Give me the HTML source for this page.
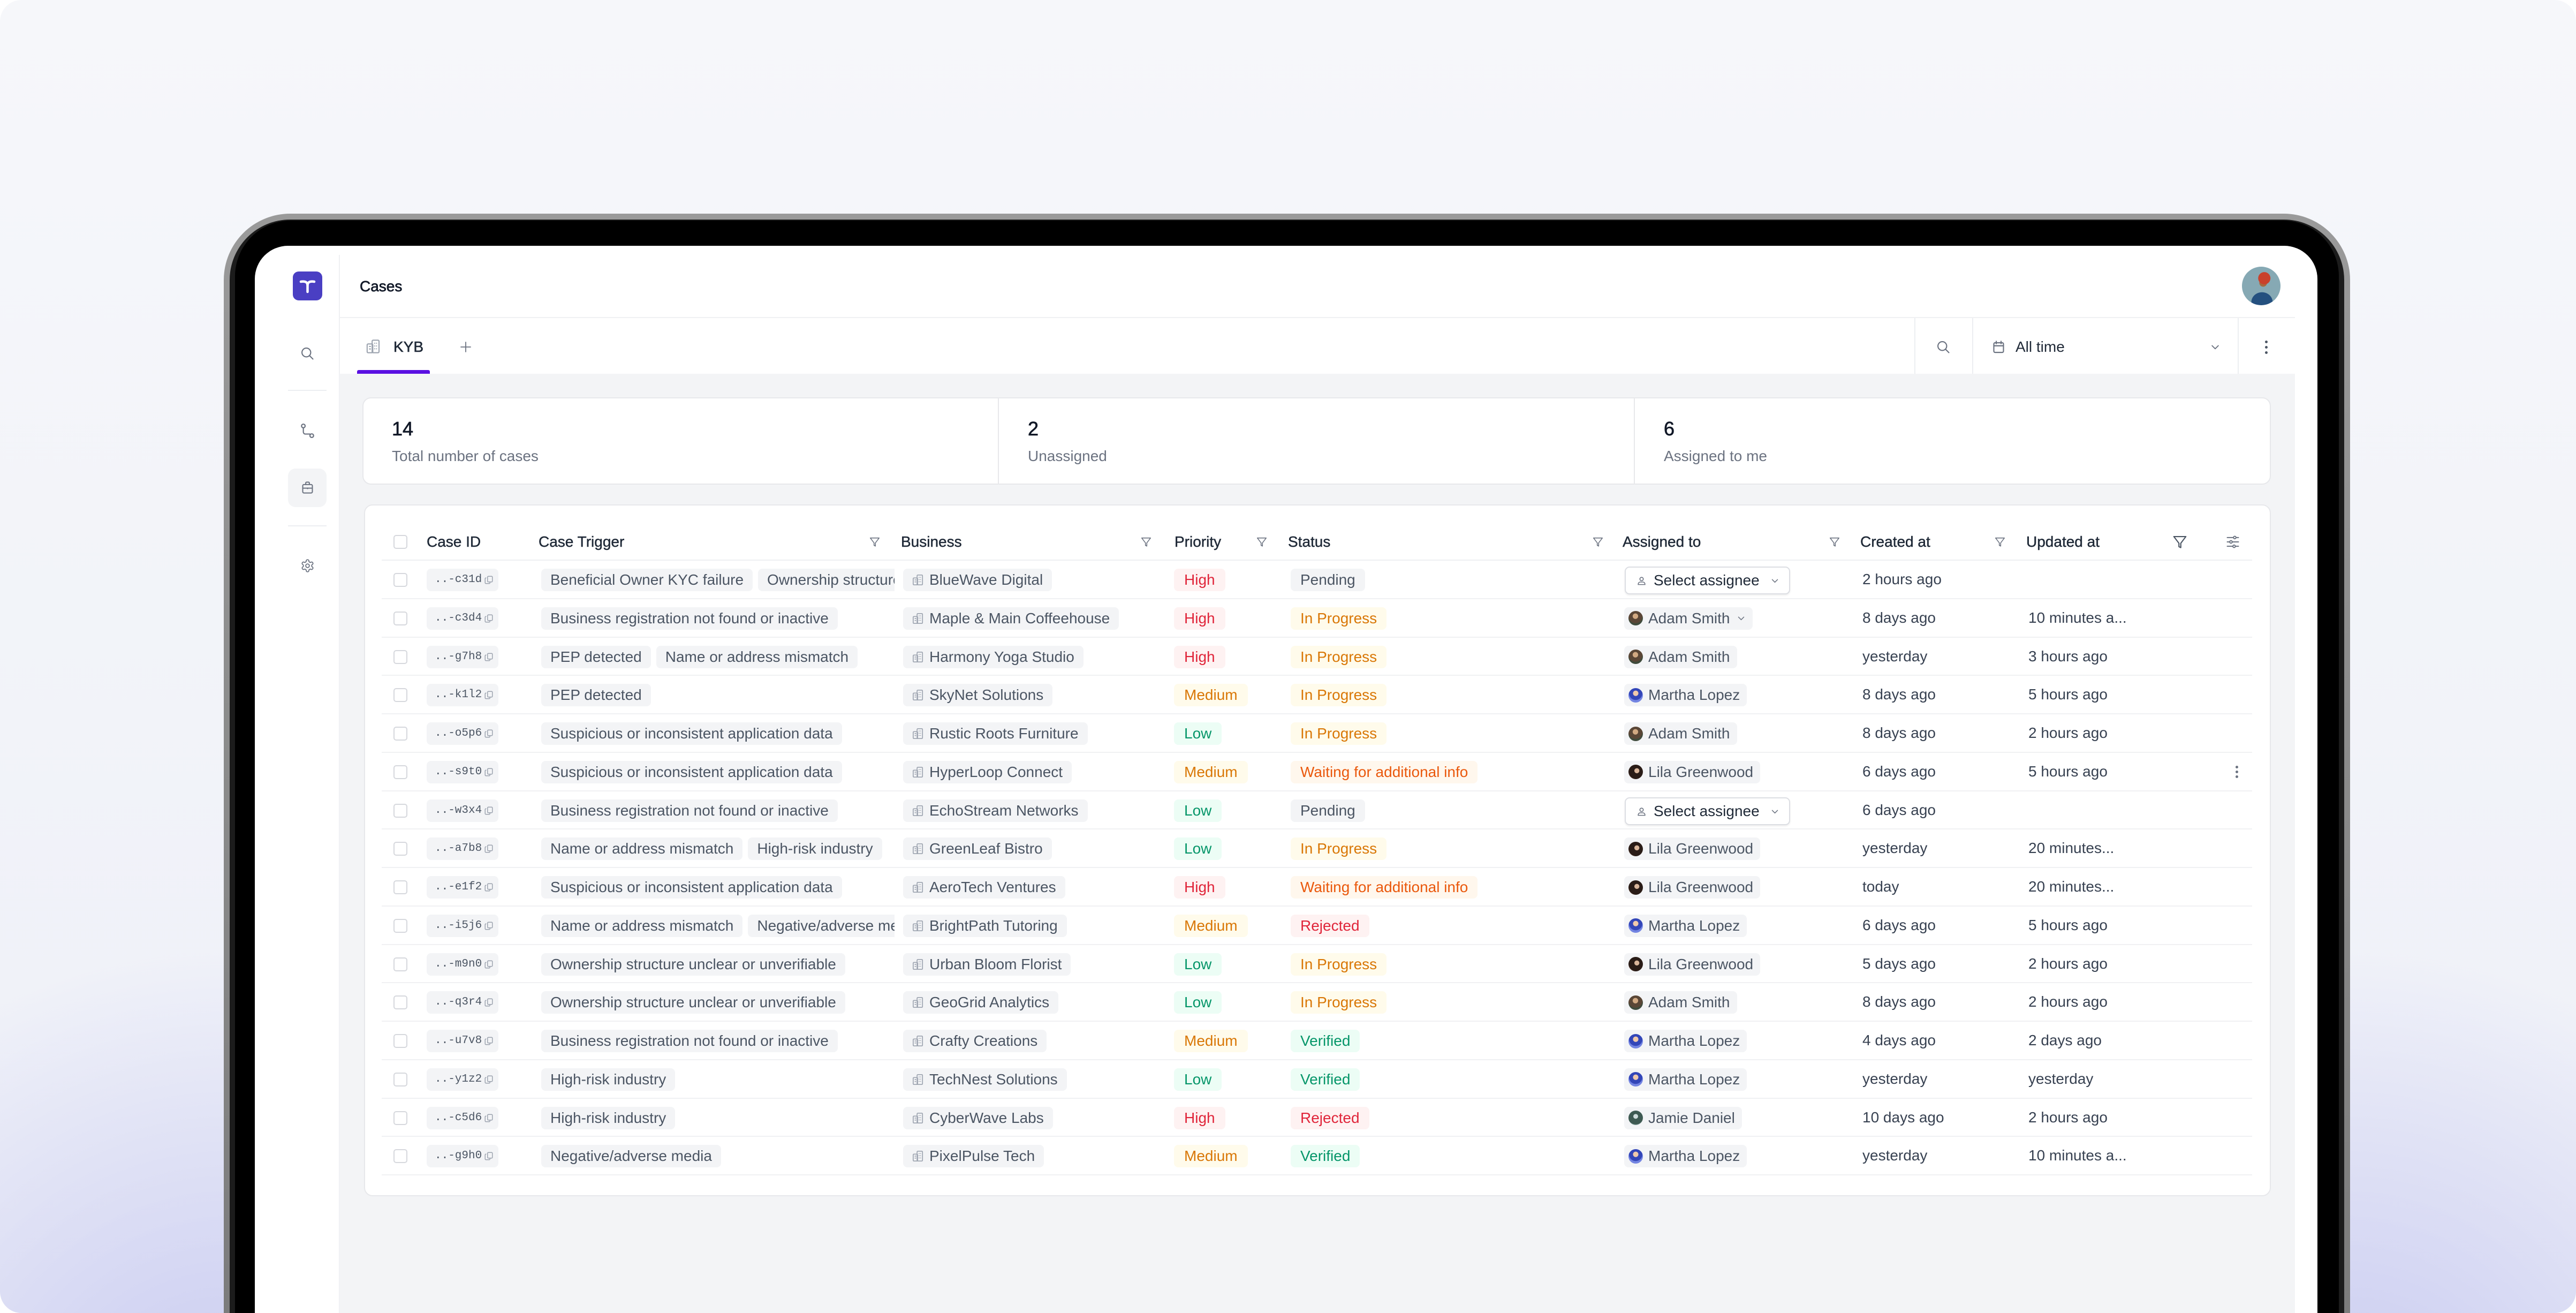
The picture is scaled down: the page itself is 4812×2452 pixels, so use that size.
<!DOCTYPE html>
<html><head><meta charset="utf-8">
<style>
html,body{margin:0;padding:0;width:4812px;height:2452px;overflow:hidden}
body{background:#fff;font-family:"Liberation Sans",Arial,sans-serif;}
#wrap{position:relative;width:4812px;height:2452px;overflow:hidden}
.abs{position:absolute}
#bg{position:absolute;left:0;top:0;width:4812px;height:2452px;border-radius:40px;overflow:hidden;
 background:
 radial-gradient(ellipse 950px 950px at 430px 2720px, rgba(198,200,240,1) 0%, rgba(198,200,240,0) 100%),
 radial-gradient(ellipse 950px 950px at 4380px 2720px, rgba(198,200,240,1) 0%, rgba(198,200,240,0) 100%),
 linear-gradient(180deg,#f6f7fa 0%,#eef0f8 100%);}
#rim{left:418px;top:399px;width:3972px;height:2053px;border-radius:124px 124px 0 0;background:linear-gradient(180deg,#9a9a9a,#7c7c7c)}
#ring{left:429px;top:410px;width:3950px;height:2042px;border-radius:113px 113px 0 0;background:#1c1c1c}
#bez{left:439px;top:412px;width:3930px;height:2040px;border-radius:104px 104px 0 0;background:#000}
#screen{left:476px;top:459px;width:3853px;height:1993px;border-radius:62px 62px 0 0;background:#fff}
.t{font-size:28px;white-space:nowrap}
.row{position:absolute;left:713px;width:3494px;height:71.75px;border-bottom:2px solid #f0f1f3;box-sizing:border-box}
.row>*{position:absolute}
.cb{left:22px;top:23px;width:26px;height:26px;border:2px solid #d6d8dd;border-radius:5px;box-sizing:border-box;background:#fff}
.id{left:84px;top:15px;width:134px;height:42px;background:#f3f4f6;border-radius:8px;font-family:"Liberation Mono","DejaVu Sans Mono",monospace;font-size:21px;line-height:42px;color:#4b5563;padding-left:15px;box-sizing:border-box;white-space:nowrap}
.id svg{position:absolute;left:107px;top:12px}
.trig{left:298px;top:15px;width:660px;height:42px;overflow:hidden;white-space:nowrap;display:flex;gap:10px}
.pill{display:inline-block;height:42px;line-height:42px;padding:0 17px;background:#f3f4f6;border-radius:8px;color:#4b5563;font-size:28px;white-space:nowrap;flex:none;box-sizing:border-box}
.biz{left:974px;top:15px;display:flex;align-items:center;gap:10px}
.pri{left:1480px;top:15px;padding:0 19px}
.st{left:1698px;top:15px;padding:0 18px}
.asg{left:2321px;top:15px;display:flex;align-items:center;gap:10px;padding:0 13px 0 8px}
.sel{left:2322px;top:11px;width:309px;height:52px;border:2px solid #dcdee3;border-radius:9px;box-sizing:border-box;background:#fff;box-shadow:0 2px 3px rgba(0,0,0,0.07)}
.sel svg{position:absolute}
.sel span{position:absolute;left:52px;top:0;line-height:48px;font-size:28px;color:#1f2937}
.cr{left:2766px;top:0;line-height:70px;font-size:28px;color:#374151;white-space:nowrap}
.up{left:3076px;top:0;line-height:70px;font-size:28px;color:#374151;white-space:nowrap}
.av{width:27px;height:27px;border-radius:50%;flex:none}
.adam{background:radial-gradient(circle at 48% 36%,#d2a982 0 22%,#5a4636 24% 58%,#3f4b3c 60%)}
.martha{background:radial-gradient(circle at 50% 36%,#f0c9ab 0 22%,#3346b8 24% 56%,#7384e2 58%)}
.lila{background:radial-gradient(circle at 58% 42%,#d9b59a 0 20%,#2a1c17 22% 70%,#5a4036 72%)}
.jamie{background:radial-gradient(circle at 50% 40%,#cfdcdc 0 20%,#3e5a52 22% 70%,#7f9c98 72%)}
.hi{background:#fef2f2;color:#e0253a}
.me{background:#fffbeb;color:#d97706}
.lo{background:#ecfdf5;color:#059669}
.pe{background:#f3f4f6;color:#4b5563}
.ip{background:#fffbeb;color:#d97706}
.wa{background:#fff7ed;color:#ea580c}
.rj{background:#fef2f2;color:#e0253a}
.vf{background:#ecfdf5;color:#059669}
.hdr{position:absolute;left:713px;top:976px;width:3494px;height:71px;border-bottom:2px solid #eef0f2;box-sizing:border-box}
.hdr>*{position:absolute}
.hl{top:0;line-height:72px;font-size:28px;color:#1f2937;white-space:nowrap;-webkit-text-stroke:0.45px #1f2937}
.fl{top:25px}
</style></head>
<body>
<div id="wrap">
<svg width="0" height="0" style="position:absolute">
 <defs>
  <symbol id="bld" viewBox="0 0 24 24"><g fill="none" stroke="#9ca3af" stroke-width="1.8" stroke-linejoin="round"><rect x="2" y="8" width="9" height="14" rx="1.5"/><rect x="10" y="2" width="11" height="20" rx="1.5"/><path d="M5 12h3M5 16h3M14 6v1.5M17 6v1.5M14 10.5v1.5M17 10.5v1.5M14 15v1.5M17 15v1.5"/></g></symbol>
  <symbol id="cpy" viewBox="0 0 24 24"><g fill="none" stroke="#9ca3af" stroke-width="2"><rect x="9" y="3" width="12" height="14" rx="2"/><path d="M6 7H5a2 2 0 0 0-2 2v10a2 2 0 0 0 2 2h8a2 2 0 0 0 2-2v-1"/></g></symbol>
  <symbol id="chev" viewBox="0 0 24 24"><path d="M5 9l7 7 7-7" fill="none" stroke="#6b7280" stroke-width="2.2" stroke-linecap="round" stroke-linejoin="round"/></symbol>
  <symbol id="flt" viewBox="0 0 24 24"><path d="M3 4h18l-7.6 10v6.5l-2.8-1.4V14z" fill="none" stroke="#6b7280" stroke-width="1.7" stroke-linejoin="round"/></symbol>
  <symbol id="usr" viewBox="0 0 24 24"><g fill="none" stroke="#6b7280" stroke-width="2"><circle cx="12" cy="8" r="4"/><path d="M4 21v-1a5 5 0 0 1 5-5h6a5 5 0 0 1 5 5v1z"/></g></symbol>
 </defs>
</svg>

<div id="bg"></div>
<div class="abs" id="rim"></div>
<div class="abs" id="ring"></div>
<div class="abs" id="bez"></div>
<div class="abs" id="screen"></div>

<!-- sidebar -->
<div class="abs" style="left:633px;top:476px;width:2px;height:1976px;background:#eff0f3"></div>
<div class="abs" style="left:547px;top:507px;width:55px;height:54px;border-radius:11px;background:#4a3fc3"></div>
<svg class="abs" style="left:547px;top:507px" width="55" height="54" viewBox="0 0 55 54"><path d="M15 19 Q27.5 17 27.5 26 Q27.5 17 40 19" fill="none" stroke="#fff" stroke-width="4.5" stroke-linecap="round"/><path d="M27.5 24 V38" stroke="#fff" stroke-width="4.5" stroke-linecap="round"/></svg>
<svg class="abs" style="left:560px;top:646px" width="28" height="28" viewBox="0 0 24 24"><g fill="none" stroke="#6b7280" stroke-width="1.8" stroke-linecap="round"><circle cx="10.5" cy="10.5" r="7"/><path d="M16 16l5 5"/></g></svg>
<div class="abs" style="left:538px;top:728px;width:72px;height:2px;background:#eceef1"></div>
<svg class="abs" style="left:560px;top:790px" width="29" height="29" viewBox="0 0 24 24"><g fill="none" stroke="#6b7280" stroke-width="1.8" stroke-linecap="round"><circle cx="5.5" cy="4.5" r="2.8"/><circle cx="18.5" cy="19.5" r="2.8"/><path d="M5.5 7.3V14a3 3 0 0 0 3 3h7.2"/></g></svg>
<div class="abs" style="left:538px;top:875px;width:72px;height:72px;border-radius:14px;background:#f3f4f6"></div>
<svg class="abs" style="left:561px;top:897px" width="27" height="27" viewBox="0 0 24 24"><g fill="none" stroke="#6b7280" stroke-width="1.8" stroke-linejoin="round"><rect x="4" y="7" width="16" height="14" rx="2"/><path d="M9 7V4.5A1.5 1.5 0 0 1 10.5 3h3A1.5 1.5 0 0 1 15 4.5V7M4 13h16M12 12v2.5"/></g></svg>
<div class="abs" style="left:538px;top:981px;width:72px;height:2px;background:#eceef1"></div>
<svg class="abs" style="left:561px;top:1043px" width="27" height="27" viewBox="0 0 24 24"><g fill="none" stroke="#6b7280" stroke-width="1.6"><path d="M12.22 2h-.44a2 2 0 0 0-2 2v.18a2 2 0 0 1-1 1.73l-.43.25a2 2 0 0 1-2 0l-.15-.08a2 2 0 0 0-2.73.73l-.22.38a2 2 0 0 0 .73 2.73l.15.1a2 2 0 0 1 1 1.72v.51a2 2 0 0 1-1 1.74l-.15.09a2 2 0 0 0-.73 2.73l.22.38a2 2 0 0 0 2.73.73l.15-.08a2 2 0 0 1 2 0l.43.25a2 2 0 0 1 1 1.73V20a2 2 0 0 0 2 2h.44a2 2 0 0 0 2-2v-.18a2 2 0 0 1 1-1.73l.43-.25a2 2 0 0 1 2 0l.15.08a2 2 0 0 0 2.73-.73l.22-.39a2 2 0 0 0-.73-2.73l-.15-.08a2 2 0 0 1-1-1.74v-.5a2 2 0 0 1 1-1.74l.15-.09a2 2 0 0 0 .73-2.73l-.22-.38a2 2 0 0 0-2.73-.73l-.15.08a2 2 0 0 1-2 0l-.43-.25a2 2 0 0 1-1-1.73V4a2 2 0 0 0-2-2z"/><circle cx="12" cy="12" r="3"/></g></svg>

<!-- header -->
<div class="abs t" style="left:672px;top:515px;line-height:40px;color:#111827;-webkit-text-stroke:0.7px #111827">Cases</div>
<div class="abs" style="left:4188px;top:498px;width:72px;height:72px;border-radius:50%;overflow:hidden;background:
 radial-gradient(circle at 58% 30%,#c9412c 0 17%,rgba(0,0,0,0) 18%),
 radial-gradient(circle at 55% 42%,#a7683f 0 12%,rgba(0,0,0,0) 13%),
 radial-gradient(ellipse 28px 26px at 52% 92%,#24507f 0 70%,rgba(0,0,0,0) 72%),
 #86a9b4"></div>
<div class="abs" style="left:634px;top:592px;width:3653px;height:2px;background:#f0f1f3"></div>

<!-- tab bar -->
<svg class="abs" style="left:683px;top:633px" width="29" height="28"><use href="#bld"/></svg>
<div class="abs t" style="left:735px;top:628px;line-height:40px;color:#1f2937;-webkit-text-stroke:0.6px #1f2937">KYB</div>
<svg class="abs" style="left:858px;top:636px" width="24" height="24" viewBox="0 0 24 24"><path d="M12 3v18M3 12h18" stroke="#6b7280" stroke-width="1.8" stroke-linecap="round"/></svg>
<div class="abs" style="left:667px;top:691px;width:136px;height:7px;border-radius:3px 3px 0 0;background:#5a10e2"></div>
<div class="abs" style="left:3576px;top:594px;width:2px;height:104px;background:#eceef1"></div>
<div class="abs" style="left:3684px;top:594px;width:2px;height:104px;background:#eceef1"></div>
<div class="abs" style="left:4180px;top:594px;width:2px;height:104px;background:#eceef1"></div>
<svg class="abs" style="left:3616px;top:634px" width="28" height="28" viewBox="0 0 24 24"><g fill="none" stroke="#6b7280" stroke-width="1.8" stroke-linecap="round"><circle cx="10.5" cy="10.5" r="7"/><path d="M16 16l5 5"/></g></svg>
<svg class="abs" style="left:3720px;top:634px" width="27" height="28" viewBox="0 0 24 24"><g fill="none" stroke="#6b7280" stroke-width="1.9" stroke-linecap="round"><rect x="4" y="5" width="16" height="16" rx="2"/><path d="M8 2.5v4M16 2.5v4M4 10h16"/></g></svg>
<div class="abs t" style="left:3765px;top:628px;line-height:40px;color:#1f2937">All time</div>
<svg class="abs" style="left:4128px;top:638px" width="20" height="20"><use href="#chev"/></svg>
<div class="abs" style="left:4231px;top:636px;width:5px;height:5px;border-radius:50%;background:#4b5563"></div>
<div class="abs" style="left:4231px;top:646px;width:5px;height:5px;border-radius:50%;background:#4b5563"></div>
<div class="abs" style="left:4231px;top:656px;width:5px;height:5px;border-radius:50%;background:#4b5563"></div>

<!-- content bg -->
<div class="abs" style="left:634px;top:698px;width:3653px;height:1754px;background:#f3f4f6"></div>

<!-- stats card -->
<div class="abs" style="left:677px;top:742px;width:3565px;height:163px;border:2px solid #e7e8eb;border-radius:16px;background:#fff;box-sizing:border-box"></div>
<div class="abs" style="left:1864px;top:744px;width:2px;height:159px;background:#e7e8eb"></div>
<div class="abs" style="left:3052px;top:744px;width:2px;height:159px;background:#e7e8eb"></div>
<div class="abs" style="left:732px;top:783px;font-size:36px;line-height:36px;color:#111827;-webkit-text-stroke:0.7px #111827">14</div>
<div class="abs t" style="left:732px;top:838px;line-height:28px;color:#6b7280">Total number of cases</div>
<div class="abs" style="left:1920px;top:783px;font-size:36px;line-height:36px;color:#111827;-webkit-text-stroke:0.7px #111827">2</div>
<div class="abs t" style="left:1920px;top:838px;line-height:28px;color:#6b7280">Unassigned</div>
<div class="abs" style="left:3108px;top:783px;font-size:36px;line-height:36px;color:#111827;-webkit-text-stroke:0.7px #111827">6</div>
<div class="abs t" style="left:3108px;top:838px;line-height:28px;color:#6b7280">Assigned to me</div>

<!-- table card -->
<div class="abs" style="left:680px;top:942px;width:3562px;height:1292px;border:2px solid #e7e8eb;border-radius:16px;background:#fff;box-sizing:border-box"></div>

<div class="hdr">
 <div class="cb" style="left:22px;top:23px;position:absolute;width:26px;height:26px;border:2px solid #d6d8dd;border-radius:5px;box-sizing:border-box"></div>
 <div class="hl" style="left:84px">Case ID</div>
 <div class="hl" style="left:293px">Case Trigger</div>
 <svg class="fl" style="left:910px" width="22" height="22"><use href="#flt"/></svg>
 <div class="hl" style="left:970px">Business</div>
 <svg class="fl" style="left:1417px" width="22" height="22"><use href="#flt"/></svg>
 <div class="hl" style="left:1481px">Priority</div>
 <svg class="fl" style="left:1633px" width="22" height="22"><use href="#flt"/></svg>
 <div class="hl" style="left:1693px">Status</div>
 <svg class="fl" style="left:2261px" width="22" height="22"><use href="#flt"/></svg>
 <div class="hl" style="left:2318px">Assigned to</div>
 <svg class="fl" style="left:2703px" width="22" height="22"><use href="#flt"/></svg>
 <div class="hl" style="left:2762px">Created at</div>
 <svg class="fl" style="left:3012px" width="22" height="22"><use href="#flt"/></svg>
 <div class="hl" style="left:3072px">Updated at</div>
 <svg style="left:3344px;top:21px" width="30" height="30" viewBox="0 0 24 24"><path d="M3 4h18l-7.6 10v6.5l-2.8-1.4V14z" fill="none" stroke="#4b5563" stroke-width="1.7" stroke-linejoin="round"/></svg>
 <svg style="left:3444px;top:22px" width="28" height="28" viewBox="0 0 24 24"><g fill="none" stroke="#6b7280" stroke-width="1.7" stroke-linecap="round"><path d="M3 5h18M3 12h18M3 19h18"/><circle cx="15" cy="5" r="2" fill="#fff"/><circle cx="9" cy="12" r="2" fill="#fff"/><circle cx="14" cy="19" r="2" fill="#fff"/></g></svg>
</div>

<!-- rows -->
<div class="row" style="top:1047px">
 <div class="cb"></div>
 <div class="id">..-c31d<svg width="18" height="18"><use href="#cpy"/></svg></div>
 <div class="trig"><span class="pill">Beneficial Owner KYC failure</span><span class="pill">Ownership structure unclear or unverifiable</span></div>
 <div class="biz pill"><svg width="22" height="22"><use href="#bld"/></svg>BlueWave Digital</div>
 <div class="pri pill hi">High</div>
 <div class="st pill pe">Pending</div>
 <div class="sel"><svg style="left:20px;top:15px" width="19" height="19"><use href="#usr"/></svg><span>Select assignee</span><svg style="left:270px;top:16px" width="17" height="17"><use href="#chev"/></svg></div>
 <div class="cr">2 hours ago</div>
 <div class="up"></div>
</div>

<div class="row" style="top:1118.75px">
 <div class="cb"></div>
 <div class="id">..-c3d4<svg width="18" height="18"><use href="#cpy"/></svg></div>
 <div class="trig"><span class="pill">Business registration not found or inactive</span></div>
 <div class="biz pill"><svg width="22" height="22"><use href="#bld"/></svg>Maple &amp; Main Coffeehouse</div>
 <div class="pri pill hi">High</div>
 <div class="st pill ip">In Progress</div>
 <div class="asg pill"><span class="av adam"></span>Adam Smith<svg width="17" height="17" style="margin-left:2px"><use href="#chev"/></svg></div>
 <div class="cr">8 days ago</div>
 <div class="up">10 minutes a...</div>
</div>

<div class="row" style="top:1190.5px">
 <div class="cb"></div>
 <div class="id">..-g7h8<svg width="18" height="18"><use href="#cpy"/></svg></div>
 <div class="trig"><span class="pill">PEP detected</span><span class="pill">Name or address mismatch</span></div>
 <div class="biz pill"><svg width="22" height="22"><use href="#bld"/></svg>Harmony Yoga Studio</div>
 <div class="pri pill hi">High</div>
 <div class="st pill ip">In Progress</div>
 <div class="asg pill"><span class="av adam"></span>Adam Smith</div>
 <div class="cr">yesterday</div>
 <div class="up">3 hours ago</div>
</div>

<div class="row" style="top:1262.25px">
 <div class="cb"></div>
 <div class="id">..-k1l2<svg width="18" height="18"><use href="#cpy"/></svg></div>
 <div class="trig"><span class="pill">PEP detected</span></div>
 <div class="biz pill"><svg width="22" height="22"><use href="#bld"/></svg>SkyNet Solutions</div>
 <div class="pri pill me">Medium</div>
 <div class="st pill ip">In Progress</div>
 <div class="asg pill"><span class="av martha"></span>Martha Lopez</div>
 <div class="cr">8 days ago</div>
 <div class="up">5 hours ago</div>
</div>

<div class="row" style="top:1334px">
 <div class="cb"></div>
 <div class="id">..-o5p6<svg width="18" height="18"><use href="#cpy"/></svg></div>
 <div class="trig"><span class="pill">Suspicious or inconsistent application data</span></div>
 <div class="biz pill"><svg width="22" height="22"><use href="#bld"/></svg>Rustic Roots Furniture</div>
 <div class="pri pill lo">Low</div>
 <div class="st pill ip">In Progress</div>
 <div class="asg pill"><span class="av adam"></span>Adam Smith</div>
 <div class="cr">8 days ago</div>
 <div class="up">2 hours ago</div>
</div>

<div class="row" style="top:1405.75px">
 <div class="cb"></div>
 <div class="id">..-s9t0<svg width="18" height="18"><use href="#cpy"/></svg></div>
 <div class="trig"><span class="pill">Suspicious or inconsistent application data</span></div>
 <div class="biz pill"><svg width="22" height="22"><use href="#bld"/></svg>HyperLoop Connect</div>
 <div class="pri pill me">Medium</div>
 <div class="st pill wa">Waiting for additional info</div>
 <div class="asg pill"><span class="av lila"></span>Lila Greenwood</div>
 <div class="cr">6 days ago</div>
 <div class="up">5 hours ago</div>
 <div style="left:3463px;top:24px;width:5px;height:5px;border-radius:50%;background:#6b7280"></div>
 <div style="left:3463px;top:33px;width:5px;height:5px;border-radius:50%;background:#6b7280"></div>
 <div style="left:3463px;top:42px;width:5px;height:5px;border-radius:50%;background:#6b7280"></div>
</div>

<div class="row" style="top:1477.5px">
 <div class="cb"></div>
 <div class="id">..-w3x4<svg width="18" height="18"><use href="#cpy"/></svg></div>
 <div class="trig"><span class="pill">Business registration not found or inactive</span></div>
 <div class="biz pill"><svg width="22" height="22"><use href="#bld"/></svg>EchoStream Networks</div>
 <div class="pri pill lo">Low</div>
 <div class="st pill pe">Pending</div>
 <div class="sel"><svg style="left:20px;top:15px" width="19" height="19"><use href="#usr"/></svg><span>Select assignee</span><svg style="left:270px;top:16px" width="17" height="17"><use href="#chev"/></svg></div>
 <div class="cr">6 days ago</div>
 <div class="up"></div>
</div>

<div class="row" style="top:1549.25px">
 <div class="cb"></div>
 <div class="id">..-a7b8<svg width="18" height="18"><use href="#cpy"/></svg></div>
 <div class="trig"><span class="pill">Name or address mismatch</span><span class="pill">High-risk industry</span></div>
 <div class="biz pill"><svg width="22" height="22"><use href="#bld"/></svg>GreenLeaf Bistro</div>
 <div class="pri pill lo">Low</div>
 <div class="st pill ip">In Progress</div>
 <div class="asg pill"><span class="av lila"></span>Lila Greenwood</div>
 <div class="cr">yesterday</div>
 <div class="up">20 minutes...</div>
</div>

<div class="row" style="top:1621px">
 <div class="cb"></div>
 <div class="id">..-e1f2<svg width="18" height="18"><use href="#cpy"/></svg></div>
 <div class="trig"><span class="pill">Suspicious or inconsistent application data</span></div>
 <div class="biz pill"><svg width="22" height="22"><use href="#bld"/></svg>AeroTech Ventures</div>
 <div class="pri pill hi">High</div>
 <div class="st pill wa">Waiting for additional info</div>
 <div class="asg pill"><span class="av lila"></span>Lila Greenwood</div>
 <div class="cr">today</div>
 <div class="up">20 minutes...</div>
</div>

<div class="row" style="top:1692.75px">
 <div class="cb"></div>
 <div class="id">..-i5j6<svg width="18" height="18"><use href="#cpy"/></svg></div>
 <div class="trig"><span class="pill">Name or address mismatch</span><span class="pill">Negative/adverse media</span></div>
 <div class="biz pill"><svg width="22" height="22"><use href="#bld"/></svg>BrightPath Tutoring</div>
 <div class="pri pill me">Medium</div>
 <div class="st pill rj">Rejected</div>
 <div class="asg pill"><span class="av martha"></span>Martha Lopez</div>
 <div class="cr">6 days ago</div>
 <div class="up">5 hours ago</div>
</div>

<div class="row" style="top:1764.5px">
 <div class="cb"></div>
 <div class="id">..-m9n0<svg width="18" height="18"><use href="#cpy"/></svg></div>
 <div class="trig"><span class="pill">Ownership structure unclear or unverifiable</span></div>
 <div class="biz pill"><svg width="22" height="22"><use href="#bld"/></svg>Urban Bloom Florist</div>
 <div class="pri pill lo">Low</div>
 <div class="st pill ip">In Progress</div>
 <div class="asg pill"><span class="av lila"></span>Lila Greenwood</div>
 <div class="cr">5 days ago</div>
 <div class="up">2 hours ago</div>
</div>

<div class="row" style="top:1836.25px">
 <div class="cb"></div>
 <div class="id">..-q3r4<svg width="18" height="18"><use href="#cpy"/></svg></div>
 <div class="trig"><span class="pill">Ownership structure unclear or unverifiable</span></div>
 <div class="biz pill"><svg width="22" height="22"><use href="#bld"/></svg>GeoGrid Analytics</div>
 <div class="pri pill lo">Low</div>
 <div class="st pill ip">In Progress</div>
 <div class="asg pill"><span class="av adam"></span>Adam Smith</div>
 <div class="cr">8 days ago</div>
 <div class="up">2 hours ago</div>
</div>

<div class="row" style="top:1908px">
 <div class="cb"></div>
 <div class="id">..-u7v8<svg width="18" height="18"><use href="#cpy"/></svg></div>
 <div class="trig"><span class="pill">Business registration not found or inactive</span></div>
 <div class="biz pill"><svg width="22" height="22"><use href="#bld"/></svg>Crafty Creations</div>
 <div class="pri pill me">Medium</div>
 <div class="st pill vf">Verified</div>
 <div class="asg pill"><span class="av martha"></span>Martha Lopez</div>
 <div class="cr">4 days ago</div>
 <div class="up">2 days ago</div>
</div>

<div class="row" style="top:1979.75px">
 <div class="cb"></div>
 <div class="id">..-y1z2<svg width="18" height="18"><use href="#cpy"/></svg></div>
 <div class="trig"><span class="pill">High-risk industry</span></div>
 <div class="biz pill"><svg width="22" height="22"><use href="#bld"/></svg>TechNest Solutions</div>
 <div class="pri pill lo">Low</div>
 <div class="st pill vf">Verified</div>
 <div class="asg pill"><span class="av martha"></span>Martha Lopez</div>
 <div class="cr">yesterday</div>
 <div class="up">yesterday</div>
</div>

<div class="row" style="top:2051.5px">
 <div class="cb"></div>
 <div class="id">..-c5d6<svg width="18" height="18"><use href="#cpy"/></svg></div>
 <div class="trig"><span class="pill">High-risk industry</span></div>
 <div class="biz pill"><svg width="22" height="22"><use href="#bld"/></svg>CyberWave Labs</div>
 <div class="pri pill hi">High</div>
 <div class="st pill rj">Rejected</div>
 <div class="asg pill"><span class="av jamie"></span>Jamie Daniel</div>
 <div class="cr">10 days ago</div>
 <div class="up">2 hours ago</div>
</div>

<div class="row" style="top:2123.25px">
 <div class="cb"></div>
 <div class="id">..-g9h0<svg width="18" height="18"><use href="#cpy"/></svg></div>
 <div class="trig"><span class="pill">Negative/adverse media</span></div>
 <div class="biz pill"><svg width="22" height="22"><use href="#bld"/></svg>PixelPulse Tech</div>
 <div class="pri pill me">Medium</div>
 <div class="st pill vf">Verified</div>
 <div class="asg pill"><span class="av martha"></span>Martha Lopez</div>
 <div class="cr">yesterday</div>
 <div class="up">10 minutes a...</div>
</div>

</div>
</body></html>
